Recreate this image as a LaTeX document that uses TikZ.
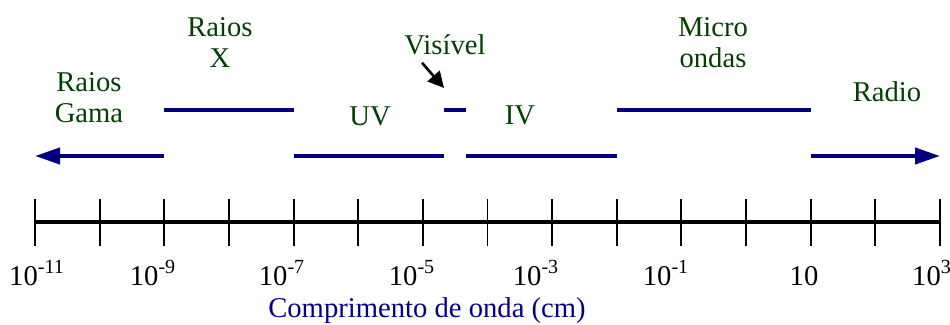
\documentclass[tikz,border=0pt]{standalone}
\usepackage{fontspec}
\setmainfont{Liberation Serif}
\usetikzlibrary{arrows.meta}
\definecolor{bandblue}{RGB}{0,0,128}
\definecolor{labelgreen}{RGB}{0,64,0}
\definecolor{captionblue}{RGB}{0,0,140}

\begin{document}
\begin{tikzpicture}[font=\fontsize{16.3}{18.1}\selectfont,
  band/.style={bandblue,line width=2.3pt},
  bandtip/.style={-{Triangle[length=0.5cm,width=0.32cm]}},
  region/.style={labelgreen,align=center,anchor=base,inner sep=0pt},
  ticklabel/.style={anchor=base,inner sep=0pt}]
  \useasboundingbox (0,0) rectangle (19,-6.5);

  % Axis and ticks
  \foreach \i in {0,...,14}
    \coordinate (t\i) at ({0.7+1.29286*\i},-4.44);
  \draw[line width=2.2pt] (t0) -- (t14);
  \foreach \i in {0,...,14}
    \draw[line width=1.1pt] ([yshift=0.46cm]t\i) -- ([yshift=-0.48cm]t\i);

  % Wavelengths under the ticks
  \node[ticklabel] (l11) at (0.74,-5.70) {10\textsuperscript{-11}};
  \node[ticklabel] (l9) at (3.06,-5.70) {10\textsuperscript{-9}};
  \node[ticklabel] (l7) at (5.64,-5.70) {10\textsuperscript{-7}};
  \node[ticklabel] (l5) at (8.24,-5.70) {10\textsuperscript{-5}};
  \node[ticklabel] (l3) at (10.72,-5.70) {10\textsuperscript{-3}};
  \node[ticklabel] (l1) at (13.32,-5.70) {10\textsuperscript{-1}};
  \node[ticklabel] (l10) at (16.08,-5.70) {10};
  \node[ticklabel] (lk) at (18.64,-5.70) {10\textsuperscript{3}};
  \node[captionblue,anchor=base,inner sep=0pt] (caption) at (8.54,-6.34) {Comprimento de onda (cm)};

  % Bands of the spectrum
  \draw[band,bandtip] (t2 |- 0,-3.12) -- (t0 |- 0,-3.12);
  \draw[band] (t2 |- 0,-2.20) -- (t4 |- 0,-2.20);
  \draw[band] (t4 |- 0,-3.12) -- (8.88,-3.12);
  \coordinate (visend) at (8.88,-1.76);
  \draw[band] (8.88,-2.20) -- (9.32,-2.20);
  \draw[band] (9.32,-3.12) -- (t9 |- 0,-3.12);
  \draw[band] (t9 |- 0,-2.20) -- (t12 |- 0,-2.20);
  \draw[band,bandtip] (t12 |- 0,-3.12) -- (t14 |- 0,-3.12);

  % Names of the bands (base = last line)
  \node[region] (gama) at (1.78,-2.46) {Raios\\Gama};
  \node[region] (raiosx) at (4.40,-1.36) {Raios\\X};
  \node[region] (uv) at (7.40,-2.52) {UV};
  \node[region] (vis) at (8.90,-1.10) {Visível};
  \node[region] (iv) at (10.40,-2.50) {IV};
  \node[region] (micro) at (14.26,-1.36) {Micro\\ondas};
  \node[region] (radio) at (17.74,-2.04) {Radio};
  \draw[line width=1.5pt,-{Triangle[length=0.32cm,width=0.32cm]}]
    ([shift={(-0.46,-0.14)}]vis.south) -- (visend);
\end{tikzpicture}
\end{document}
